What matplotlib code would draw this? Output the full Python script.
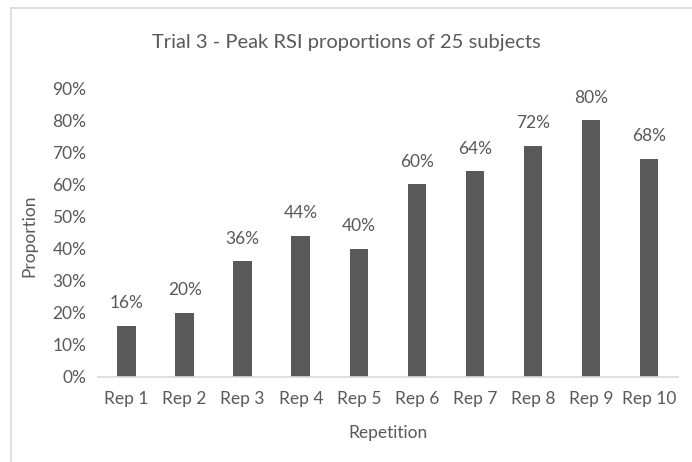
import numpy as np
import matplotlib.pyplot as plt
from matplotlib.lines import Line2D
from matplotlib.ticker import PercentFormatter

# data
reps = ['Rep 1', 'Rep 2', 'Rep 3', 'Rep 4', 'Rep 5', 'Rep 6', 'Rep 7', 'Rep 8', 'Rep 9', 'Rep 10']
proportions = [0.16, 0.20, 0.36, 0.44, 0.40, 0.60, 0.64, 0.72, 0.80, 0.68]

grey = '#595959'
plt.rcParams['font.family'] = ['Lato', 'DejaVu Sans']

fig = plt.figure(figsize=(6.92, 4.62), dpi=100)
ax = fig.add_axes([0.141, 0.184, 0.839, 0.6255])

x = np.arange(len(reps))
bars = ax.bar(x, proportions, width=0.32, color=grey)
for b, v in zip(bars, proportions):
    ax.text(b.get_x() + b.get_width() / 2, v + 0.045, f'{v:.0%}', ha='center', va='bottom',
            fontsize=12.5, color=grey)

ax.set_xlim(-0.5, len(reps) - 0.5)
ax.set_ylim(0, 0.9)
ax.set_yticks(np.arange(0, 0.91, 0.1))
ax.yaxis.set_major_formatter(PercentFormatter(1.0, decimals=0))
ax.set_xticks(x)
ax.set_xticklabels(reps)
ax.tick_params(axis='both', length=0, labelsize=12.5, labelcolor=grey)
ax.tick_params(axis='x', pad=10)
ax.tick_params(axis='y', pad=8)

for s in ['top', 'right', 'left']:
    ax.spines[s].set_visible(False)
ax.spines['bottom'].set_color('#d9d9d9')
ax.spines['bottom'].set_linewidth(1.2)

fig.text(0.5, 0.909, 'Trial 3 - Peak RSI proportions of 25 subjects', ha='center', va='center',
         fontsize=14.5, color=grey)
fig.text(0.561, 0.063, 'Repetition', ha='center', va='center', fontsize=12.5, color=grey)
fig.text(0.043, 0.49, 'Proportion', ha='center', va='center', rotation=90, fontsize=12.5, color=grey)

# chart area border (cropped at right and bottom)
fig.add_artist(Line2D([0.016, 0.016], [0, 0.983], color='#d9d9d9', lw=1.2, transform=fig.transFigure))
fig.add_artist(Line2D([0.016, 1], [0.983, 0.983], color='#d9d9d9', lw=1.2, transform=fig.transFigure))

fig.savefig('out.png', dpi=100)
